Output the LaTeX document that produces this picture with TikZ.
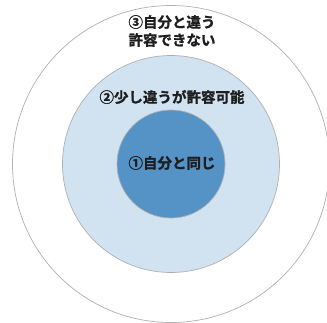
\documentclass[tikz,border=0pt]{standalone}
\usepackage{fontspec}
\newfontfamily\cjk{Noto Sans CJK JP}[BoldFont={Noto Sans CJK JP Bold},BoldFeatures={FakeBold=1.2}]
\definecolor{innerblue}{HTML}{5592C6}
\definecolor{midblue}{HTML}{D1E2F1}
\definecolor{ringgray}{HTML}{B0B0B0}
\definecolor{txt}{HTML}{1E1E1E}
\tikzset{
  ring/.style={draw=ringgray, line width=0.7pt},
  label/.style={text=txt, font=\cjk\bfseries\fontsize{14.5}{18}\selectfont, align=center, inner sep=0pt}
}
\begin{document}
\begin{tikzpicture}[x=1pt,y=1pt]
\useasboundingbox (0,0) rectangle (327,-322);
\clip (0,0) rectangle (327,-322);
\fill[white] (0,0) rectangle (327,-322);
\coordinate (c) at (171,-164);
\draw[ring, fill=white] (c) circle (158.5);
\draw[ring, fill=midblue] (c) circle (108.5);
\draw[ring, fill=innerblue] (c) circle (54);
\node[label] (t3) at (172,-31) {③自分と違う\\許容できない};
\node[label] (t2) at (172,-97) {②少し違うが許容可能};
\node[label] (t1) at (172,-163) {①自分と同じ};
\end{tikzpicture}
\end{document}
